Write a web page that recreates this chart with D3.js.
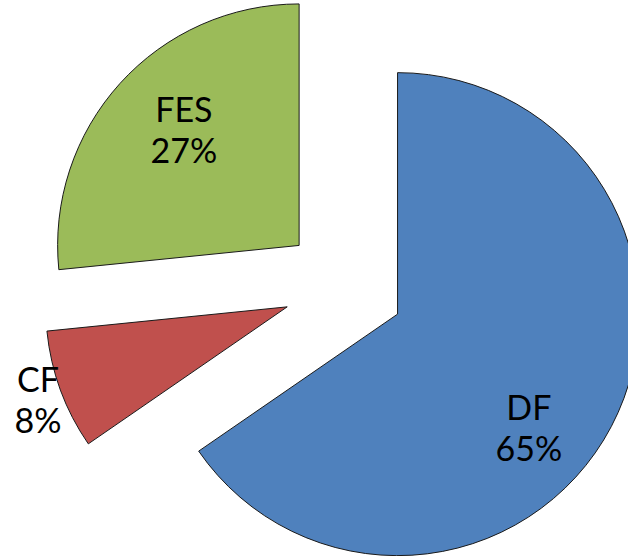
<!DOCTYPE html>
<html>
<head>
<meta charset="utf-8">
<script src="https://cdn.jsdelivr.net/npm/d3@7.9.0/dist/d3.min.js"></script>
<style>
  html, body { margin: 0; padding: 0; background: #fff; }
  svg { display: block; }
</style>
</head>
<body>
<script>
// data (shares; labels show rounded percent)
const categories = ['DF', 'CF', 'FES'];
const shares     = [65.4, 8.0, 26.6];
const colors     = ['#4F81BD', '#C0504D', '#9BBB59'];

// layout
const W = 628, H = 556;
const CX = 344, CY = 286;
const R = 241.5;
const EXPLODE = 60.5;
// label placement relative to each slice's own tip (angle in degrees, radius in px)
const labelPos = {
  DF:  { angle: 131, r: 174 },
  CF:  { angle: 249.5, r: 266 },
  FES: { angle: 315, r: 163 }
};

const svg = d3.select('body').append('svg')
  .attr('width', W)
  .attr('height', H);

const pie = d3.pie().sort(null).value(d => d.value);
const arcs = pie(categories.map((c, i) => ({ name: c, value: shares[i], color: colors[i] })));

const arc = d3.arc().innerRadius(0).outerRadius(R);

const g = svg.append('g').attr('transform', `translate(${CX},${CY})`);

const slice = g.selectAll('g.slice')
  .data(arcs)
  .join('g')
    .attr('class', 'slice')
    .attr('transform', d => {
      const mid = (d.startAngle + d.endAngle) / 2;
      return `translate(${EXPLODE * Math.sin(mid)},${-EXPLODE * Math.cos(mid)})`;
    });

slice.append('path')
  .attr('d', arc)
  .attr('fill', d => d.data.color)
  .attr('stroke', '#1a1a1a')
  .attr('stroke-width', 1)
  .attr('stroke-linejoin', 'miter');

// labels: two lines, name over percentage
const lbl = slice.append('g')
  .attr('transform', d => {
    const p = labelPos[d.data.name];
    const a = p.angle * Math.PI / 180;
    return `translate(${p.r * Math.sin(a)},${-p.r * Math.cos(a)})`;
  });

[
  { y: -8, fn: d => d.data.name },
  { y: 33, fn: d => Math.round(d.data.value) + '%' }
].forEach(line => {
  lbl.append('text')
    .attr('text-anchor', 'middle')
    .attr('y', line.y)
    .style('font-family', 'Lato, sans-serif')
    .style('font-size', '34px')
    .attr('fill', '#000')
    .text(line.fn);
});
</script>
</body>
</html>
